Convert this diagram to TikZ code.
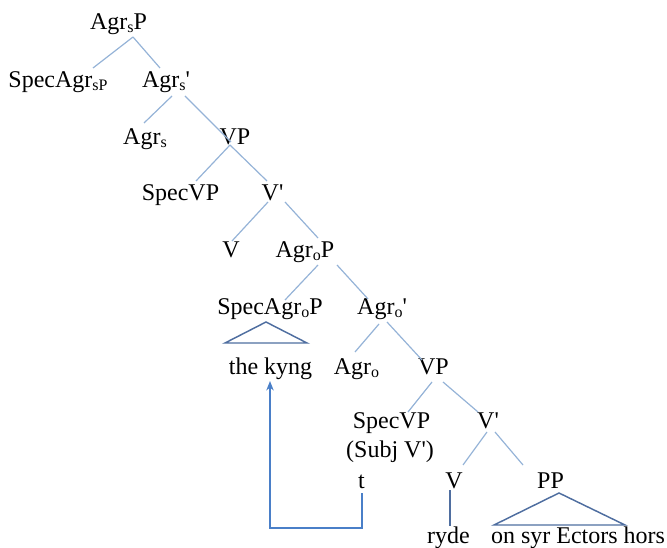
\documentclass[tikz,border=0pt]{standalone}
\usepackage{fontspec}
\setmainfont{Liberation Serif}
\usetikzlibrary{arrows.meta}

\definecolor{branchblue}{HTML}{95B3D7}
\definecolor{triblue}{HTML}{4F6EA0}
\definecolor{moveblue}{HTML}{4A7FC8}

% small lowered index (Agr_s, Agr_o)
\newcommand{\subidx}[1]{\raisebox{-2.2pt}{\fontsize{12}{12}\selectfont #1}}
\newcommand{\barmark}{\textquotesingle}

\tikzset{
  lbl/.style={inner sep=0pt, anchor=base, font=\fontsize{18}{20}\selectfont},
  branch/.style={draw=branchblue, line width=0.9pt},
  roof/.style={draw=triblue, line width=1.1pt, line join=miter},
  move/.style={draw=moveblue, line width=1.3pt, -{Stealth[length=7pt,width=5.5pt,inset=2pt]}}
}

\begin{document}
\begin{tikzpicture}[x=0.75pt, y=-0.75pt]
      \useasboundingbox (0,0) rectangle (667,548);
      \draw
        (118.5,30) node[lbl] (agrsp){Agr\subidx{s}P}
        (58,88) node[lbl] (specagrsp){SpecAgr\subidx{sP}}
        (166,88) node[lbl] (agrsbar){Agr\subidx{s}\barmark}
        (145,145) node[lbl] (agrs){Agr\subidx{s}}
        (235,145) node[lbl] (vp1){VP}
        (180.5,201) node[lbl] (specvp1){SpecVP}
        (272.5,201) node[lbl] (vbar1){V\barmark}
        (231,258) node[lbl] (v1){V}
        (305,258) node[lbl] (agrop){Agr\subidx{o}P}
        (270,315) node[lbl] (specagrop){SpecAgr\subidx{o}P}
        (382,315) node[lbl] (agrobar){Agr\subidx{o}\barmark}
        (270.5,375) node[lbl] (kyng){the kyng}
        (356.5,375) node[lbl] (agro){Agr\subidx{o}}
        (433.5,375) node[lbl] (vp2){VP}
        (391.5,429) node[lbl] (specvp2){SpecVP}
        (390,457) node[lbl] (subj){(Subj V\barmark)}
        (488,429) node[lbl] (vbar2){V\barmark}
        (361.5,488) node[lbl] (trace){t}
        (454,488) node[lbl] (v2){V}
        (550.5,488) node[lbl] (pp){PP}
        (448.5,543) node[lbl] (ryde){ryde}
        (578,543) node[lbl] (hors){on syr Ectors hors};
      \begin{scope}[branch]
        \draw ([shift={(14.5,7)}]agrsp.base) to ([shift={(35,-20)}]specagrsp.base);
        \draw ([shift={(14.5,7)}]agrsp.base) to ([shift={(-6,-20)}]agrsbar.base);
        \draw ([shift={(6,8)}]agrsbar.base) to ([shift={(-1,-22)}]agrs.base);
        \draw ([shift={(19,8)}]agrsbar.base) to ([shift={(-4,-3)}]vp1.base);
        \draw ([shift={(-5,0)}]vp1.base) to ([shift={(15.5,-20)}]specvp1.base);
        \draw ([shift={(-5,0)}]vp1.base) to ([shift={(-5.5,-20)}]vbar1.base);
        \draw ([shift={(-4.5,1)}]vbar1.base) to ([shift={(1,-17)}]v1.base);
        \draw ([shift={(12.5,1)}]vbar1.base) to ([shift={(13,-20)}]agrop.base);
        \draw ([shift={(13,7)}]agrop.base) to ([shift={(15,-15)}]specagrop.base);
        \draw ([shift={(32,7)}]agrop.base) to ([shift={(-14,-16)}]agrobar.base);
        \draw ([shift={(-3,9)}]agrobar.base) to ([shift={(-1.5,-23)}]agro.base);
        \draw ([shift={(5,7)}]agrobar.base) to ([shift={(-11.5,-15)}]vp2.base);
        \draw ([shift={(-1.5,7)}]vp2.base) to ([shift={(16.5,-17)}]specvp2.base);
        \draw ([shift={(9.5,7)}]vp2.base) to ([shift={(-10,-17)}]vbar2.base);
        \draw ([shift={(-1,3)}]vbar2.base) to ([shift={(9,-23)}]v2.base);
        \draw ([shift={(7,3)}]vbar2.base) to ([shift={(-27.5,-23)}]pp.base);
        \draw[draw=triblue] ([shift={(-4,2)}]v2.base) to ([shift={(1.5,-17)}]ryde.base);
      \end{scope}
      % roofs over unanalysed phrases
      \draw[roof] ([shift={(-4,7)}]specagrop.base) -- ([shift={(-45.5,-32)}]kyng.base)
        -- ([shift={(36.5,-32)}]kyng.base) -- cycle;
      \draw[roof] ([shift={(8.5,5)}]pp.base) -- ([shift={(-84,-18)}]hors.base)
        -- ([shift={(47,-18)}]hors.base) -- cycle;
      % movement of the object to SpecAgroP
      \draw[move] ([shift={(0.5,5)}]trace.base) -- ++(0,35) -| ([shift={(-0.5,6)}]kyng.base);
    \end{tikzpicture}
\end{document}
